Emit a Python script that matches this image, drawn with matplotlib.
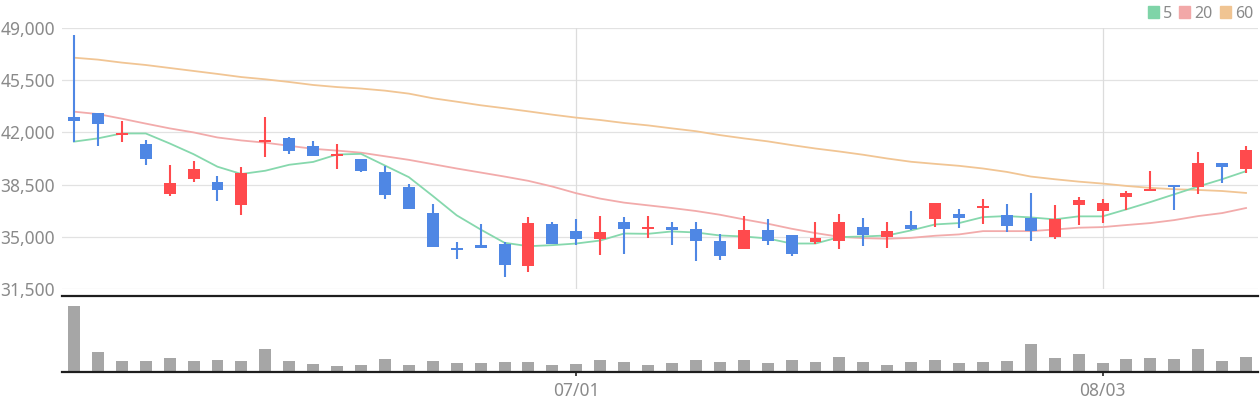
import matplotlib
matplotlib.use("Agg")
import matplotlib.pyplot as plt
from matplotlib.patches import Patch
import numpy as np

plt.rcParams["font.family"] = ["Noto Sans", "DejaVu Sans"]

# daily candles (50 trading days)
opens = [43030, 43300, 41850, 41220, 37890, 38900, 38670, 37150, 41380, 41620,
         41090, 40440, 40250, 39330, 38320, 36570, 34210, 34480, 34550, 33070,
         35830, 35360, 34820, 35960, 35520, 35630, 35490, 34750, 34210, 35430,
         35090, 34620, 34750, 35630, 34960, 35760, 36170, 36500, 36910, 36440,
         36230, 35020, 37110, 36710, 37650, 38050, 38460, 38320, 39940, 39530]
highs = [48530, 43300, 42760, 41490, 39810, 40080, 39080, 39680, 43030, 41690,
         41420, 41220, 40250, 39760, 38520, 37180, 34620, 35830, 34640, 36350,
         35960, 36170, 36370, 36300, 36370, 35960, 35960, 35160, 36370, 36170,
         35090, 35960, 36500, 36230, 35960, 36700, 37240, 36840, 37510, 37180,
         37920, 37110, 37650, 37510, 38050, 39400, 38460, 40680, 39940, 41080]
lows = [41380, 41110, 41380, 39840, 37760, 38700, 37420, 36480, 40370, 40570,
        40400, 39550, 39350, 37510, 36840, 34300, 33540, 34260, 32280, 32670,
        34550, 34480, 33810, 33880, 34890, 34420, 33410, 33470, 34150, 34480,
        33740, 34550, 34210, 34350, 34280, 35430, 35630, 35560, 35830, 35290,
        34690, 34820, 35760, 35900, 36770, 38050, 36770, 37850, 38590, 39260]
closes = [42790, 42560, 41980, 40240, 38610, 39550, 38160, 39280, 41490, 40780,
          40420, 40550, 39400, 37800, 36840, 34300, 34130, 34280, 33140, 35900,
          34550, 34820, 35290, 35490, 35630, 35430, 34690, 33680, 35430, 34750,
          33880, 34890, 35960, 35090, 35360, 35490, 37240, 36230, 37040, 35700,
          35360, 36170, 37450, 37240, 37920, 38190, 38320, 39940, 39670, 40810]
volumes = [196000, 58000, 34000, 34000, 43000, 34000, 37000, 34000, 67000, 34000,
           25000, 19000, 22000, 40000, 22000, 34000, 28000, 28000, 31000, 31000,
           22000, 25000, 37000, 31000, 22000, 28000, 37000, 31000, 37000, 28000,
           37000, 31000, 46000, 31000, 22000, 31000, 37000, 28000, 31000, 34000,
           82000, 43000, 52000, 28000, 40000, 43000, 40000, 67000, 34000, 46000]

# moving averages as shown on the chart
ma5 = [41380, 41600, 41930, 41930, 41260, 40540, 39700, 39210, 39430, 39830,
       40020, 40520, 40560, 39780, 39000, 37740, 36440, 35490, 34600, 34370,
       34440, 34550, 34750, 35220, 35200, 35360, 35290, 35090, 35020, 34890,
       34550, 34550, 34980, 35020, 35090, 35430, 35830, 35920, 36320, 36390,
       36300, 36170, 36370, 36370, 36840, 37330, 37850, 38370, 38860, 39400]
ma20 = [43390, 43230, 42920, 42590, 42270, 42000, 41660, 41460, 41310, 41100,
        40900, 40780, 40640, 40400, 40160, 39870, 39580, 39310, 39040, 38750,
        38370, 37920, 37560, 37290, 37110, 36930, 36730, 36480, 36170, 35880,
        35540, 35250, 35000, 34910, 34870, 34930, 35070, 35160, 35380, 35380,
        35380, 35490, 35610, 35650, 35790, 35920, 36120, 36390, 36590, 36930]
ma60 = [47010, 46880, 46680, 46520, 46320, 46120, 45920, 45710, 45560, 45380,
        45180, 45040, 44940, 44800, 44600, 44290, 44060, 43820, 43620, 43410,
        43190, 42990, 42830, 42630, 42470, 42270, 42080, 41820, 41600, 41400,
        41150, 40920, 40720, 40500, 40250, 40030, 39890, 39760, 39580, 39350,
        39040, 38860, 38700, 38570, 38410, 38280, 38190, 38140, 38070, 37940]

tick_idx = [21, 43]
tick_labels = ["07/01", "08/03"]
price_ticks = [31500, 35000, 38500, 42000, 45500, 49000]

RED = "#ff4a4d"
BLUE = "#4f87e4"
GRAY_TXT = "#8a8a8a"

x = np.arange(len(opens))
o = np.array(opens)
c = np.array(closes)
cols = [RED if cc >= oo else BLUE for oo, cc in zip(o, c)]

fig = plt.figure(figsize=(12.6, 4), dpi=100)
ax = fig.add_axes([62 / 1260, 111 / 400, 1196 / 1260, 261 / 400])
axv = fig.add_axes([62 / 1260, 28 / 400, 1196 / 1260, 76 / 400])

# price panel
ax.plot(x, ma60, color="#f1c594", lw=1.3, zorder=2)
ax.plot(x, ma20, color="#f2abab", lw=1.3, zorder=2)
ax.plot(x, ma5, color="#86d8ad", lw=1.3, zorder=2)
ax.vlines(x, lows, highs, colors=cols, lw=1.5, zorder=3)
ax.bar(x, np.maximum(np.abs(c - o), 110), bottom=np.minimum(o, c),
       width=0.5, color=cols, zorder=3)
for t in tick_idx:
    ax.axvline(t, color="#dcdcdc", lw=0.9, zorder=1)

ax.set_xlim(-0.5, len(x) - 0.5)
ax.set_ylim(31500, 49000)
ax.set_yticks(price_ticks)
ax.set_yticklabels([f"{v:,}" for v in price_ticks])
ax.set_xticks([])
ax.yaxis.grid(True, color="#e2e2e2", lw=0.9)
ax.set_axisbelow(True)
ax.tick_params(axis="y", length=0, pad=5, labelsize=12.5, labelcolor=GRAY_TXT)
for s in ax.spines.values():
    s.set_visible(False)

# volume panel
axv.bar(x, volumes, width=0.5, color="#a6a6a6")
axv.set_xlim(-0.5, len(x) - 0.5)
axv.set_ylim(0, max(volumes) * 76 / 66)
axv.set_yticks([])
axv.set_xticks(tick_idx)
axv.set_xticklabels(tick_labels)
axv.tick_params(axis="x", length=3, width=1.2, color="#222222", pad=4,
                labelsize=12.5, labelcolor=GRAY_TXT)
for side in ["left", "right"]:
    axv.spines[side].set_visible(False)
for side in ["top", "bottom"]:
    axv.spines[side].set_color("#1e1e1e")
    axv.spines[side].set_linewidth(1.6)

handles = [Patch(color="#7fd4a8", label="5"),
           Patch(color="#f2a8a8", label="20"),
           Patch(color="#f0c492", label="60")]
fig.legend(handles=handles, loc="upper right", bbox_to_anchor=(1266 / 1260, 1.018),
           ncol=3, frameon=False, fontsize=11.5, handlelength=0.7, handleheight=0.7,
           handletextpad=0.25, columnspacing=0.45, labelcolor=GRAY_TXT, borderpad=0.3)

fig.savefig("out.png", dpi=100)
